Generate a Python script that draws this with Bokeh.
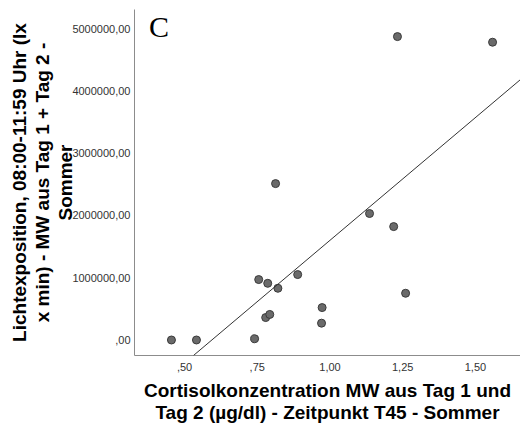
from bokeh.plotting import figure
from bokeh.models import Range1d, FixedTicker, Label, Slope
from bokeh.embed import file_html
from bokeh.resources import INLINE

# Data
cortisol = [0.455, 0.541, 0.741, 0.755, 0.779, 0.786, 0.793, 0.813, 0.821,
            0.889, 0.971, 0.973, 1.136, 1.219, 1.232, 1.260, 1.559]
licht = [0, 0, 20000, 970000, 360000, 910000, 410000, 2510000, 830000,
         1050000, 270000, 520000, 2030000, 1820000, 4870000, 750000, 4780000]

x_ticks = [0.5, 0.75, 1.0, 1.25, 1.5]
x_tick_labels = [",50", ",75", "1,00", "1,25", "1,50"]
y_ticks = [0, 1000000, 2000000, 3000000, 4000000, 5000000]
y_tick_labels = [",00", "1000000,00", "2000000,00", "3000000,00",
                 "4000000,00", "5000000,00"]

fit_slope = 3.94e6
fit_intercept = -2.34e6

panel_letter = "C"
x_title = "Cortisolkonzentration MW aus Tag 1 und\nTag 2 (µg/dl) - Zeitpunkt T45 - Sommer"
y_title = "Lichtexposition, 08:00-11:59 Uhr (lx\nx min) - MW aus Tag 1 + Tag 2 -\nSommer"

p = figure(width=520, height=431, output_backend="svg", toolbar_location=None,
           x_range=Range1d(0.328, 1.655), y_range=Range1d(-249000, 5305000),
           min_border_left=134, min_border_right=0, min_border_top=9,
           min_border_bottom=76)
p.outline_line_color = None
p.grid.visible = False
p.background_fill_color = "white"
p.border_fill_color = "white"

for ax in (p.xaxis[0], p.yaxis[0]):
    ax.axis_line_color = "#8c8c8c"
    ax.axis_line_width = 1
    ax.major_tick_line_color = None
    ax.minor_tick_line_color = None
    ax.major_tick_out = 0
    ax.major_tick_in = 0
    ax.minor_tick_out = 0
    ax.minor_tick_in = 0
    ax.major_label_text_font = "Liberation Sans"
    ax.major_label_text_font_size = "11px"
    ax.major_label_text_color = "#333333"
    ax.axis_label_text_font = "Liberation Sans"
    ax.axis_label_text_font_size = "19px"
    ax.axis_label_text_font_style = "bold"
    ax.axis_label_text_color = "black"

p.xaxis.ticker = FixedTicker(ticks=x_ticks)
p.xaxis.major_label_overrides = dict(zip(x_ticks, x_tick_labels))
p.yaxis.ticker = FixedTicker(ticks=y_ticks)
p.yaxis.major_label_overrides = dict(zip(y_ticks, y_tick_labels))
p.xaxis.major_label_standoff = 7
p.yaxis.major_label_standoff = 4
p.xaxis.axis_label = x_title
p.yaxis.axis_label = y_title
p.xaxis.axis_label_text_line_height = 1.05
p.yaxis.axis_label_text_line_height = 1.1
p.xaxis.axis_label_standoff = 6
p.yaxis.axis_label_standoff = -7

p.add_layout(Slope(gradient=fit_slope, y_intercept=fit_intercept,
                   line_color="#333333", line_width=1))

p.scatter(cortisol, licht, marker="circle", size=8,
          fill_color="#6a6a6a", line_color="#3a3a3a", line_width=1)

p.add_layout(Label(x=0.378, y=5295000, text=panel_letter,
                   text_font="Liberation Serif", text_font_size="30px",
                   text_baseline="top", text_color="black"))

open("out.html", "w").write(file_html(p, INLINE))
